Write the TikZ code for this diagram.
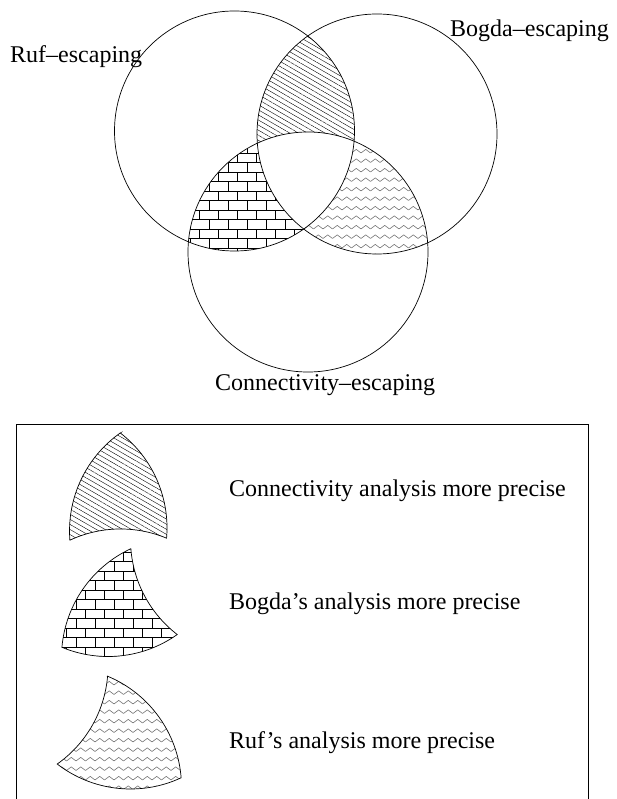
\documentclass[tikz,border=0pt]{standalone}
\usepackage{fontspec}
\setmainfont{Liberation Serif}
\usetikzlibrary{patterns,patterns.meta}

% horizontal bricks and tire treads, as in the original fig
\pgfdeclarepatternformonly{hbricks}{\pgfpoint{-0.5pt}{-0.5pt}}{\pgfpoint{19.5pt}{19.5pt}}{\pgfpoint{19pt}{19pt}}{
  \pgfsetlinewidth{0.8pt}
  \pgfpathmoveto{\pgfpoint{0pt}{0pt}}\pgfpathlineto{\pgfpoint{19pt}{0pt}}
  \pgfpathmoveto{\pgfpoint{0pt}{9.5pt}}\pgfpathlineto{\pgfpoint{19pt}{9.5pt}}
  \pgfpathmoveto{\pgfpoint{0pt}{0pt}}\pgfpathlineto{\pgfpoint{0pt}{9.5pt}}
  \pgfpathmoveto{\pgfpoint{9.5pt}{9.5pt}}\pgfpathlineto{\pgfpoint{9.5pt}{19pt}}
  \pgfusepath{stroke}}
\pgfdeclarepatternformonly{treads}{\pgfpoint{-0.5pt}{-0.5pt}}{\pgfpoint{10pt}{4.5pt}}{\pgfpoint{9.5pt}{9.5pt}}{
  \pgfsetlinewidth{0.6pt}
  \pgfpathmoveto{\pgfpoint{0pt}{0pt}}
  \pgfpathlineto{\pgfpoint{4.75pt}{3.6pt}}
  \pgfpathlineto{\pgfpoint{9.5pt}{0pt}}
  \pgfusepath{stroke}}

% the three parts that only two circles share
\newcommand\connpart{(307.78,35.96)
  arc[start angle=-52.37,end angle=4.87,radius=120]
  arc[start angle=-67.42,end angle=-114.96,radius=120]
  arc[start angle=175.60,end angle=234.78,radius=120] -- cycle}
\newcommand\bogdapart{(188.43,241.81)
  arc[start angle=-175.13,end angle=-114.96,radius=120]
  arc[start angle=175.60,end angle=127.63,radius=120]
  arc[start angle=54.78,end angle=112.58,radius=120] -- cycle}
\newcommand\rufpart{(354.07,141.19)
  arc[start angle=-67.42,end angle=-4.40,radius=120]
  arc[start angle=65.04,end angle=127.63,radius=120]
  arc[start angle=54.78,end angle=4.87,radius=120] -- cycle}

\tikzset{
  circ/.style={line width=0.7pt},
  lbl/.style={inner sep=0pt,anchor=base west,font=\fontsize{24}{28}\selectfont},
  connfill/.style={pattern={Lines[angle=-30,distance=4.4pt,line width=0.4pt]}},
  bogdafill/.style={pattern=hbricks},
  ruffill/.style={pattern=treads,pattern color=black!55}
}

\begin{document}
\begin{tikzpicture}[x=1pt,y=-1pt]
  \useasboundingbox (0,0) rectangle (616,799);
  \coordinate (ruf) at (234.5,131);
  \coordinate (bogda) at (377,134);
  \coordinate (conn) at (308,252);
  % shaded parts
  \fill[connfill] \connpart;
  \fill[bogdafill] \bogdapart;
  \fill[ruffill] \rufpart;
  % circles
  \draw[circ] (ruf) circle[radius=120];
  \draw[circ] (bogda) circle[radius=120];
  \draw[circ] (conn) circle[radius=120];
  \node[lbl] (ruflbl) at (10,63) {Ruf--escaping};
  \node[lbl] (bogdalbl) at (450,37) {Bogda--escaping};
  \node[lbl] (connlbl) at (215,390) {Connectivity--escaping};
  % legend
  \coordinate (boxbl) at (16,802);
  \coordinate (boxtl) at (16,424.3);
  \coordinate (boxtr) at (588.3,424.3);
  \coordinate (boxbr) at (588.3,802);
  \draw[line width=0.8pt] (boxbl) -- (boxtl) -- (boxtr) -- (boxbr);
  \begin{scope}[shift={(-187.5,397)}]
    \filldraw[connfill,circ] \connpart;
  \end{scope}
  \begin{scope}[shift={(-126.5,405.5)}]
    \filldraw[bogdafill,circ] \bogdapart;
  \end{scope}
  \begin{scope}[shift={(-246.5,535)}]
    \filldraw[ruffill,circ] \rufpart;
  \end{scope}
  \node[lbl] (connkey) at (229,496) {Connectivity analysis more precise};
  \node[lbl] (bogdakey) at (229,609) {Bogda's analysis more precise};
  \node[lbl] (rufkey) at (229,748) {Ruf's analysis more precise};
\end{tikzpicture}
\end{document}
